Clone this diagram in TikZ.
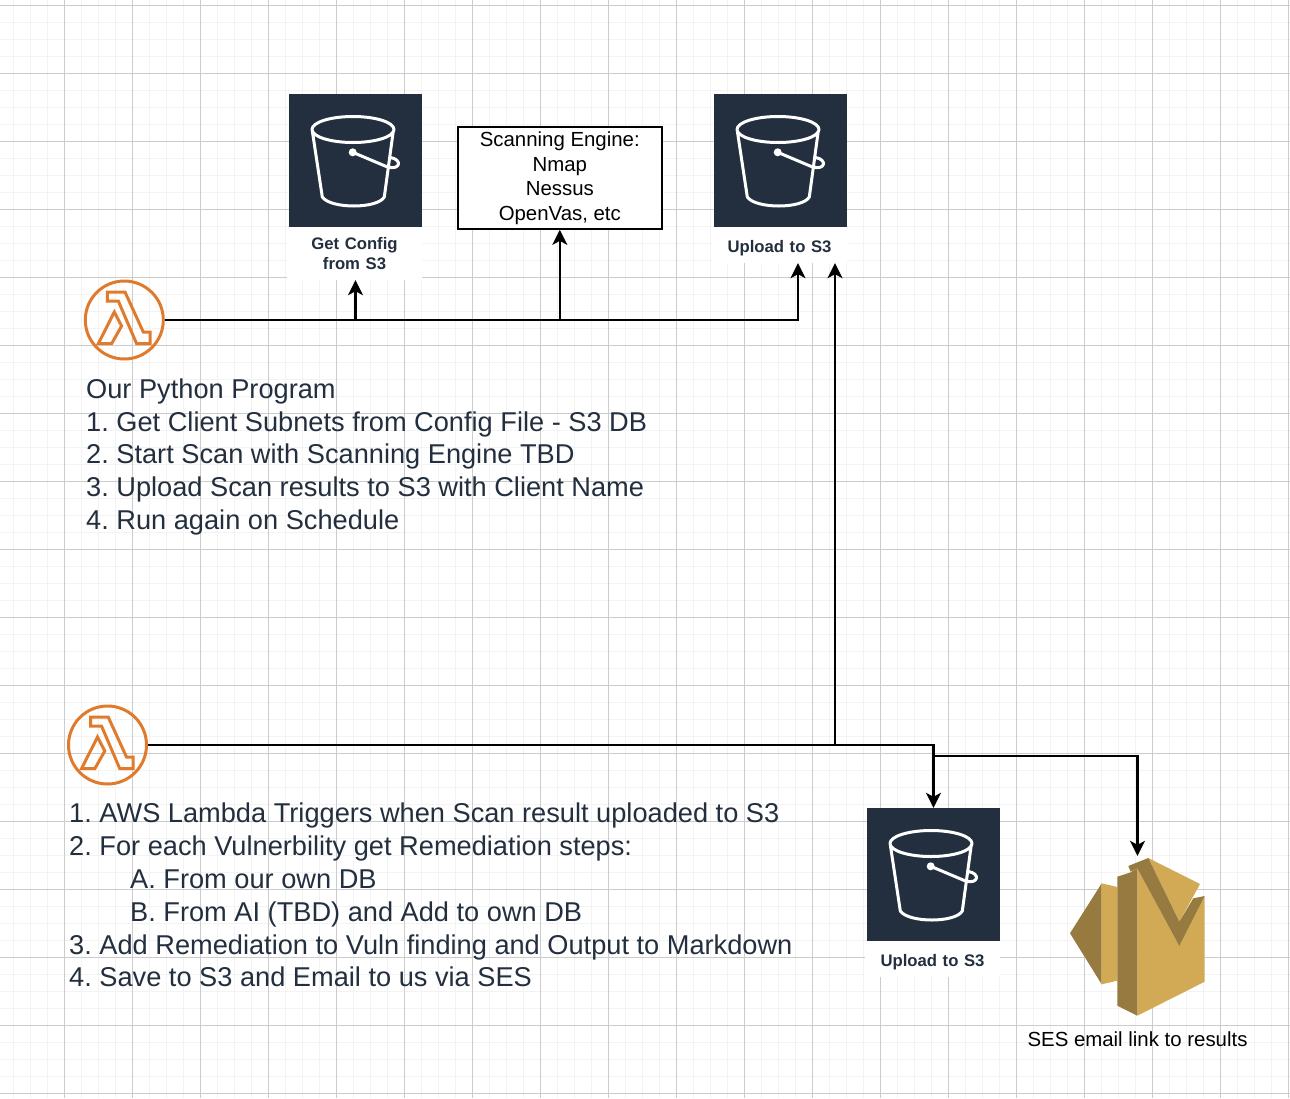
\documentclass[tikz,border=0pt]{standalone}
\usepackage{fontspec}
\setmainfont{Liberation Sans}
\frenchspacing
\usetikzlibrary{arrows.meta}
\definecolor{gridminor}{HTML}{F3F3F3}
\definecolor{gridmajor}{HTML}{CCCCCC}
\definecolor{awsnavy}{HTML}{232F3E}
\definecolor{lambdaorange}{HTML}{E07B2D}
\definecolor{seslight}{HTML}{D2AA55}
\definecolor{sesdark}{HTML}{967A3F}
\tikzset{
  flow/.style={draw=black, line width=2.2pt, -{Stealth[length=15pt,width=15pt,inset=4pt]}},
  s3box/.style={fill=awsnavy, minimum size=133pt, inner sep=0pt},
  s3label/.style={fill=white, text=awsnavy, text width=135pt, align=center, inner sep=0pt,
    font=\fontsize{16.7}{20.8}\selectfont\bfseries},
  lambdanode/.style={circle, draw=lambdaorange, line width=3pt, minimum size=78pt, inner sep=0pt},
  steptext/.style={anchor=north west, align=left, inner sep=0pt, text=awsnavy,
    font=\fontsize{27.2}{32.8}\selectfont},
  plaintext/.style={text=black, align=center, inner sep=0pt,
    font=\fontsize{20.4}{24.5}\selectfont},
  bucketicon/.pic={
    \draw[white, line width=3pt, line join=round, line cap=round]
      (-2.5,-31) ellipse [x radius=41pt, y radius=13pt]
      (-43.2,-29.7) -- (-33.2,36.5) .. controls (-25,48.5) and (22,48.5) .. (28.8,36.5) -- (37.8,-29.7)
      (-2.8,-8.2) -- (32,6.5) .. controls (45,10) and (47,-1) .. (35,-3);
    \fill[white] (-2.8,-8.2) circle [radius=4pt];
  },
  lambdaicon/.pic={
    \draw[lambdaorange, line width=3pt, line join=miter]
      (-17,-28) -- (0.7,-28) -- (19,12) -- (25.7,12) -- (25.7,23.7) -- (12.3,23.7) -- (-6,-19) -- (-17,-19) -- cycle
      (-10,-8) -- (-2.7,6) -- (-12.7,23.7) -- (-26,23.7) -- cycle;
  }
}
\begin{document}
\begin{tikzpicture}[x=1pt,y=-1pt]
  \useasboundingbox (0,0) rectangle (1290,1098);
  \fill[white] (0,0) rectangle (1290,1098);
  \foreach \x in {0,...,76} {
    \draw[gridminor, line width=1.6pt] (-3.5+17*\x,0) -- (-3.5+17*\x,1098);
  }
  \foreach \y in {0,...,65} {
    \draw[gridminor, line width=1.6pt] (0,5.5+17*\y) -- (1290,5.5+17*\y);
  }
  \foreach \x in {0,...,18} {
    \draw[gridmajor, line width=1pt] (64.5+68*\x,0) -- (64.5+68*\x,1098);
  }
  \foreach \y in {0,...,16} {
    \draw[gridmajor, line width=1pt] (0,5.5+68*\y) -- (1290,5.5+68*\y);
  }

  \node[s3box] (getbox) at (355.5,160.5) {};
  \pic at (getbox) {bucketicon};
  \node[s3label, minimum height=53pt] (getlabel) at (354.5,253.5) {Get Config\\from S3};

  \node[s3box] (upbox) at (780.5,160.5) {};
  \pic at (upbox) {bucketicon};
  \node[s3label, minimum height=36pt, text height=17pt, text depth=3pt] (uplabel) at (779.5,245) {Upload to S3};

  \node[s3box] (savebox) at (933.5,874.5) {};
  \pic at (savebox) {bucketicon};
  \node[s3label, minimum height=36pt, text height=17pt, text depth=3pt] (savelabel) at (932.5,959) {Upload to S3};

  \node[plaintext, draw=black, fill=white, line width=1.7pt, minimum width=204pt, minimum height=102pt]
    (scanbox) at (559.8,178) {Scanning Engine:\\Nmap\\Nessus\\OpenVas, etc};

  \node[lambdanode] (lamtop) at (124.3,320) {};
  \pic at (lamtop) {lambdaicon};
  \node[lambdanode] (lambot) at (107.5,745) {};
  \pic at (lambot) {lambdaicon};

  \node[steptext] (progtext) at (86,378.3) {Our Python Program\\
    1. Get Client Subnets from Config File - S3 DB\\
    2. Start Scan with Scanning Engine TBD\\
    3. Upload Scan results to S3 with Client Name\\
    4. Run again on Schedule};
  \node[steptext] (remtext) at (69,803) {1. AWS Lambda Triggers when Scan result uploaded to S3\\
    2. For each Vulnerbility get Remediation steps:\\
    \hspace*{61pt}A. From our own DB\\
    \hspace*{61pt}B. From AI (TBD) and Add to own DB\\
    3. Add Remediation to Vuln finding and Output to Markdown\\
    4. Save to S3 and Email to us via SES};

  \node[minimum width=136pt, minimum height=160pt, inner sep=0pt] (ses) at (1137.5,936) {};
  \fill[sesdark] (1070,933.3) -- (1101.7,883.3) -- (1101.7,984.3) -- cycle;
  \fill[seslight] (1101.7,883.3) -- (1117.3,887) -- (1117.3,980.7) -- (1101.7,984.3) -- cycle;
  \fill[seslight] (1137.3,868.3) -- (1179.3,946) -- (1204.7,896) -- (1204.7,981.7) -- (1137.3,1015.7) -- cycle;
  \fill[seslight] (1148.3,858) -- (1200,884) -- (1179.3,921.7) -- cycle;
  \fill[sesdark] (1117.3,876.7) -- (1130.7,872.3) -- (1137.3,868.3) -- (1137.3,1015.7) -- (1117.3,1005.7) -- cycle;
  \fill[sesdark] (1128.3,866) -- (1148.3,858) -- (1179.3,921.7) -- (1193.3,898.3) -- (1204.7,896)
    -- (1179.3,946) -- (1137.3,868.3) -- (1130.7,871.7) -- cycle;
  \node[plaintext] (seslabel) at (1137.5,1039) {SES email link to results};

  \coordinate (sesbend) at (933.5,756);
  \draw[flow] (lamtop.east) -| ([xshift=1pt]getlabel.south);
  \draw[flow] (lamtop.east) -| (scanbox.south);
  \draw[flow] (lamtop.east) -| ([xshift=18.5pt]uplabel.south);
  \draw[flow] (lambot.east) -| ([xshift=55.5pt]uplabel.south);
  \draw[flow] (lambot.east) -| (savebox.north);
  \draw[flow] (lambot.east) -| (sesbend) -| (ses.north);
\end{tikzpicture}
\end{document}
